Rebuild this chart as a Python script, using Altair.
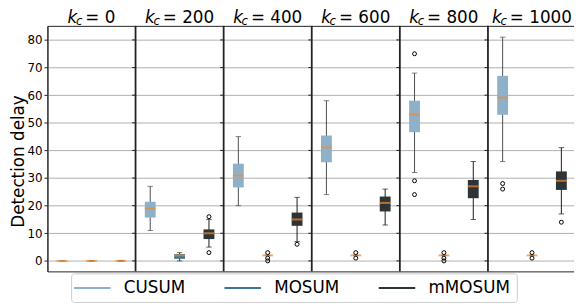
import altair as alt
import pandas as pd

k_values = [0, 200, 400, 600, 800, 1000]
k_labels = ["0", "200", "400", "600", "800", "1000"]
methods = ["CUSUM", "MOSUM", "mMOSUM"]
box_colors = ["#8fb0c9", "#3d7596", "#2c3437"]
whisker_colors = ["#4d4d4d", "#333333", "#1a1a1a"]
median_color = "#f28a2a"

# five-number summaries (per k_c)
cusum_lo = [0, 11, 20, 24, 32, 36]
cusum_q1 = [0, 15.7, 26.6, 35.7, 46.6, 52.9]
cusum_med = [0, 19, 30.9, 41.1, 53, 59.1]
cusum_q3 = [0, 21.4, 35.2, 45.4, 58, 67]
cusum_hi = [0, 27, 45, 58, 68, 81]

mosum_lo = [0, 0, 2, 2, 2, 2]
mosum_q1 = [0, 0.75, 2, 2, 2, 2]
mosum_med = [0, 2, 2, 2, 2, 2]
mosum_q3 = [0, 2.5, 2, 2, 2, 2]
mosum_hi = [0, 3, 2, 2, 2, 2]

mmosum_lo = [0, 5, 7, 13, 15, 17]
mmosum_q1 = [0, 7.9, 12.7, 17.9, 22.7, 25.7]
mmosum_med = [0, 10, 15, 21, 27, 29]
mmosum_q3 = [0, 11.4, 17.5, 23.3, 29.3, 32.4]
mmosum_hi = [0, 15, 23, 26, 36, 41]

# outliers (method, k_c, value)
out_method = ["CUSUM", "CUSUM", "CUSUM", "CUSUM", "CUSUM",
              "MOSUM", "MOSUM", "MOSUM", "MOSUM", "MOSUM", "MOSUM", "MOSUM", "MOSUM", "MOSUM", "MOSUM",
              "mMOSUM", "mMOSUM", "mMOSUM", "mMOSUM"]
out_k = [800, 800, 800, 1000, 1000,
         400, 400, 400, 600, 600, 800, 800, 800, 1000, 1000,
         200, 200, 400, 1000]
out_v = [75, 29, 24, 28, 26,
         3, 1, 0, 3, 1, 3, 1, 0, 3, 1,
         16, 3, 6, 14]

y_ticks = [0, 10, 20, 30, 40, 50, 60, 70, 80]
separators = [3, 6, 9, 12, 15]

stats = {
    "CUSUM": (cusum_lo, cusum_q1, cusum_med, cusum_q3, cusum_hi),
    "MOSUM": (mosum_lo, mosum_q1, mosum_med, mosum_q3, mosum_hi),
    "mMOSUM": (mmosum_lo, mmosum_q1, mmosum_med, mmosum_q3, mmosum_hi),
}

rows = []
for mi, m in enumerate(methods):
    lo, q1, med, q3, hi = stats[m]
    for ki, k in enumerate(k_values):
        rows.append(dict(method=m, k=k, pos=ki * 3 + mi + 0.5,
                         lo=lo[ki], q1=q1[ki], med=med[ki], q3=q3[ki], hi=hi[ki],
                         wcolor=whisker_colors[mi]))
box_df = pd.DataFrame(rows)

out_df = pd.DataFrame(dict(method=out_method, k=out_k, v=out_v))
out_df["pos"] = [k_values.index(k) * 3 + methods.index(m) + 0.5 for m, k in zip(out_method, out_k)]

title_df = pd.DataFrame(dict(num=k_labels, center=[i * 3 + 1.5 for i in range(len(k_labels))]))
sep_df = pd.DataFrame(dict(x=separators))
septick_df = pd.DataFrame([dict(x=s, y=t) for s in separators for t in y_ticks])

W, H = 534, 249
XD = [0, 17.93]
YD = [-3.8, 85.1]
xs = alt.Scale(domain=XD, nice=False, zero=False)
ys = alt.Scale(domain=YD, nice=False, zero=False)
FONT = "DejaVu Sans"
TITLE = "Detection delay"

yaxis = alt.Axis(values=y_ticks, tickSize=3.5, tickColor="#222", labelFontSize=12,
                 labelColor="black", labelFont=FONT, labelPadding=2, domain=True,
                 domainColor="#222", grid=True, gridColor="#b0b0b0", gridWidth=1,
                 titleFontSize=17, titleFont=FONT, titleFontWeight="normal",
                 titleColor="black", titleX=-24, titleY=137, titleAngle=-90,
                 titleBaseline="alphabetic", titleAlign="center")


def Y(field):
    return alt.Y(field, scale=ys, axis=yaxis, title=TITLE)


def X(field):
    return alt.X(field, scale=xs, axis=None)


base = alt.Chart(box_df)

whiskers = base.mark_rule(strokeWidth=1).encode(
    x=X("pos:Q"), y=Y("lo:Q"), y2="hi:Q",
    stroke=alt.Stroke("wcolor:N", scale=None),
)

caps = base.transform_fold(["lo", "hi"], as_=["which", "val"]).mark_tick(
    orient="horizontal", size=5.5, thickness=1).encode(
    x=X("pos:Q"), y=Y("val:Q"),
    fill=alt.Fill("wcolor:N", scale=None),
)

boxes = base.mark_rule(strokeWidth=11, strokeCap="butt").encode(
    x=X("pos:Q"), y=Y("q1:Q"), y2="q3:Q",
    color=alt.Color("method:N", sort=methods,
                    scale=alt.Scale(domain=methods, range=box_colors),
                    legend=alt.Legend(title=None, orient="none", direction="horizontal",
                                      legendX=24, legendY=251, symbolType="M-3,0H3",
                                      symbolSize=152, symbolStrokeWidth=2, symbolOffset=7,
                                      labelFontSize=17, labelFont=FONT, labelColor="black",
                                      labelOffset=23.5, columnPadding=35.5, padding=6,
                                      strokeColor="#cccccc", fillColor="white",
                                      cornerRadius=3)),
)

medians = base.mark_tick(orient="horizontal", size=11, thickness=2, color=median_color).encode(
    x=X("pos:Q"), y=Y("med:Q"),
)

fliers = alt.Chart(out_df).mark_point(shape="circle", filled=False, size=16, strokeWidth=1,
                                      color="black", opacity=1).encode(
    x=X("pos:Q"), y=Y("v:Q"),
)

seps = alt.Chart(sep_df).mark_rule(strokeWidth=1.8, color="#222").encode(
    x=X("x:Q"),
)

septicks = alt.Chart(septick_df).mark_point(shape="M-1,0L0,0", size=49, filled=False,
                                            strokeWidth=1, color="#222", opacity=1).encode(
    x=X("x:Q"), y=Y("y:Q"),
)

tbase = alt.Chart(title_df).transform_calculate(
    start="datum.center - (37.7 + 10.8 * length(datum.num)) / 2 / 29.78",
    eq="'= ' + datum.num",
)
t_k = tbase.mark_text(text="k", align="left", baseline="alphabetic", fontSize=17,
                      fontStyle="italic", font=FONT, color="black").encode(
    x=X("start:Q"), y=alt.value(-3))
t_c = tbase.mark_text(text="c", align="left", baseline="alphabetic", fontSize=11.9,
                      fontStyle="italic", font=FONT, color="black", dx=8.5).encode(
    x=X("start:Q"), y=alt.value(-0.5))
t_eq = tbase.mark_text(align="left", baseline="alphabetic", fontSize=17,
                       font=FONT, color="black", dx=18).encode(
    x=X("start:Q"), y=alt.value(-3), text="eq:N")

chart = alt.layer(whiskers, caps, boxes, medians, fliers, seps, septicks, t_k, t_c, t_eq).properties(
    width=W, height=H,
    padding={"left": 40, "top": 16, "right": 0, "bottom": 34},
    autosize=alt.AutoSizeParams(type="none"),
).configure_view(stroke="#222", strokeWidth=1)

chart.save("out.html", embed_options={"renderer": "svg", "actions": False})
